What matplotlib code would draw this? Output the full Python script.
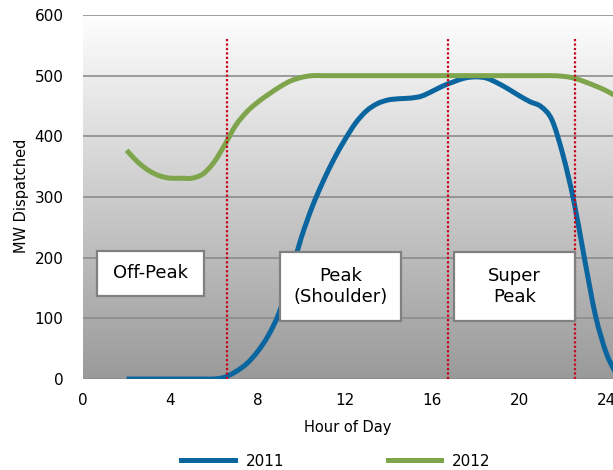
import numpy as np
import matplotlib
matplotlib.use("Agg")
import matplotlib.pyplot as plt
from matplotlib.colors import LinearSegmentedColormap
from matplotlib.patches import Rectangle, PathPatch
from matplotlib.path import Path
from matplotlib.lines import Line2D

plt.rcParams['font.family'] = ['DejaVu Sans']

# Hour of day (half-hour readings)
hours = [2, 2.5, 3, 3.5, 4, 4.5, 5, 5.5, 6, 6.5, 7, 7.5, 8, 8.5, 9, 9.5, 10,
         10.5, 11, 11.5, 12, 12.5, 13, 13.5, 14, 14.5, 15, 15.5, 16, 16.5,
         17, 17.5, 18, 18.5, 19, 19.5, 20, 20.5, 21, 21.5, 22, 22.5, 23,
         23.5, 24, 24.5]

mw_2011 = [0, 0, 0, 0, 0, 0, 0, 0, 0, 3, 12, 25, 45, 72, 110, 170, 232,
           283, 325, 362, 394, 422, 442, 454, 460, 462, 463, 466, 474, 483,
           490, 496, 498, 496, 488, 478, 467, 457, 449, 427, 370, 294, 197,
           104, 42, 5]

mw_2012 = [377, 358, 344, 335, 331, 331, 331, 338, 357, 386, 418, 440,
           456, 469, 481, 491, 497, 500, 500, 500, 500, 500, 500, 500, 500,
           500, 500, 500, 500, 500, 500, 500, 500, 500, 500, 500, 500, 500,
           500, 500, 499, 496, 490, 483, 475, 465]

# Period boundaries (hour) and labelled boxes
period_bounds = [6.62, 16.72, 22.58]
period_labels = ["Off-Peak", "Peak\n(Shoulder)", "Super\nPeak"]
period_boxes = [(0.64, 5.57, 137, 211), (9.04, 14.6, 95, 209), (17.0, 22.57, 95, 209)]

x_ticks = [0, 4, 8, 12, 16, 20, 24]
y_ticks = [0, 100, 200, 300, 400, 500, 600]

BLUE = "#0b659f"
GREEN = "#7ea54b"
RED = "#c8001a"


def smooth_path(xs, ys):
    """Cubic Bezier path through the points (Catmull-Rom tangents)."""
    p = np.column_stack([xs, ys]).astype(float)
    n = len(p)
    verts = [p[0]]
    codes = [Path.MOVETO]
    for i in range(n - 1):
        p0 = p[i - 1] if i > 0 else p[i]
        p1, p2 = p[i], p[i + 1]
        p3 = p[i + 2] if i + 2 < n else p[i + 1]
        c1 = p1 + (p2 - p0) / 6.0
        c2 = p2 - (p3 - p1) / 6.0
        verts += [c1, c2, p2]
        codes += [Path.CURVE4] * 3
    return Path(np.array(verts), codes)


fig = plt.figure(figsize=(6.13, 4.70), dpi=100)
ax = fig.add_axes([83 / 613, 1 - 379 / 470, 1 - 83 / 613, (379 - 15) / 470])
ax.set_xlim(0, 24.3)
ax.set_ylim(0, 600)

# Vertical gradient background of the plot area
cmap = LinearSegmentedColormap.from_list("bg", ["#9a9a9a", "#fefefe"])
grad = np.linspace(0, 1, 256).reshape(-1, 1)
ax.imshow(grad, extent=[0, 24.3, 0, 600], origin="lower", aspect="auto",
          cmap=cmap, zorder=0)

for y in y_ticks:
    ax.axhline(y, color="#8c8c8c", lw=1.2, zorder=1)

for s in ax.spines.values():
    s.set_visible(False)

ax.set_xticks(x_ticks)
ax.set_yticks(y_ticks)
ax.tick_params(length=0, labelsize=11, pad=10, colors="#000000")
ax.tick_params(axis="y", pad=14)

for ys, col in [(mw_2011, BLUE), (mw_2012, GREEN)]:
    ax.add_patch(PathPatch(smooth_path(hours, ys), facecolor="none",
                           edgecolor=col, lw=3.6, capstyle="butt",
                           joinstyle="round", zorder=3))

for xb in period_bounds:
    ax.plot([xb, xb], [0, 562], color=RED, lw=1.6, ls=(0, (1, 1)), zorder=4)

for (x0, x1, y0, y1), lab in zip(period_boxes, period_labels):
    ax.add_patch(Rectangle((x0, y0), x1 - x0, y1 - y0, facecolor="white",
                           edgecolor="#808080", lw=1.6, zorder=5))
    ax.text((x0 + x1) / 2, (y0 + y1) / 2, lab, ha="center", va="center",
            fontsize=13, zorder=6, linespacing=1.2)

ax.set_xlabel("Hour of Day", fontsize=10.5, labelpad=9)
fig.text(22 / 613, 1 - 196 / 470, "MW Dispatched", rotation=90,
         ha="center", va="center", fontsize=10.5)

handles = [Line2D([], [], color=BLUE, lw=3.6), Line2D([], [], color=GREEN, lw=3.6)]
fig.legend(handles, ["2011", "2012"], loc="center",
           bbox_to_anchor=(336 / 613, 1 - 461 / 470),
           ncol=2, frameon=False, fontsize=11, handlelength=3.5,
           columnspacing=6.8, handletextpad=0.7)

fig.savefig("out.png", dpi=100)
